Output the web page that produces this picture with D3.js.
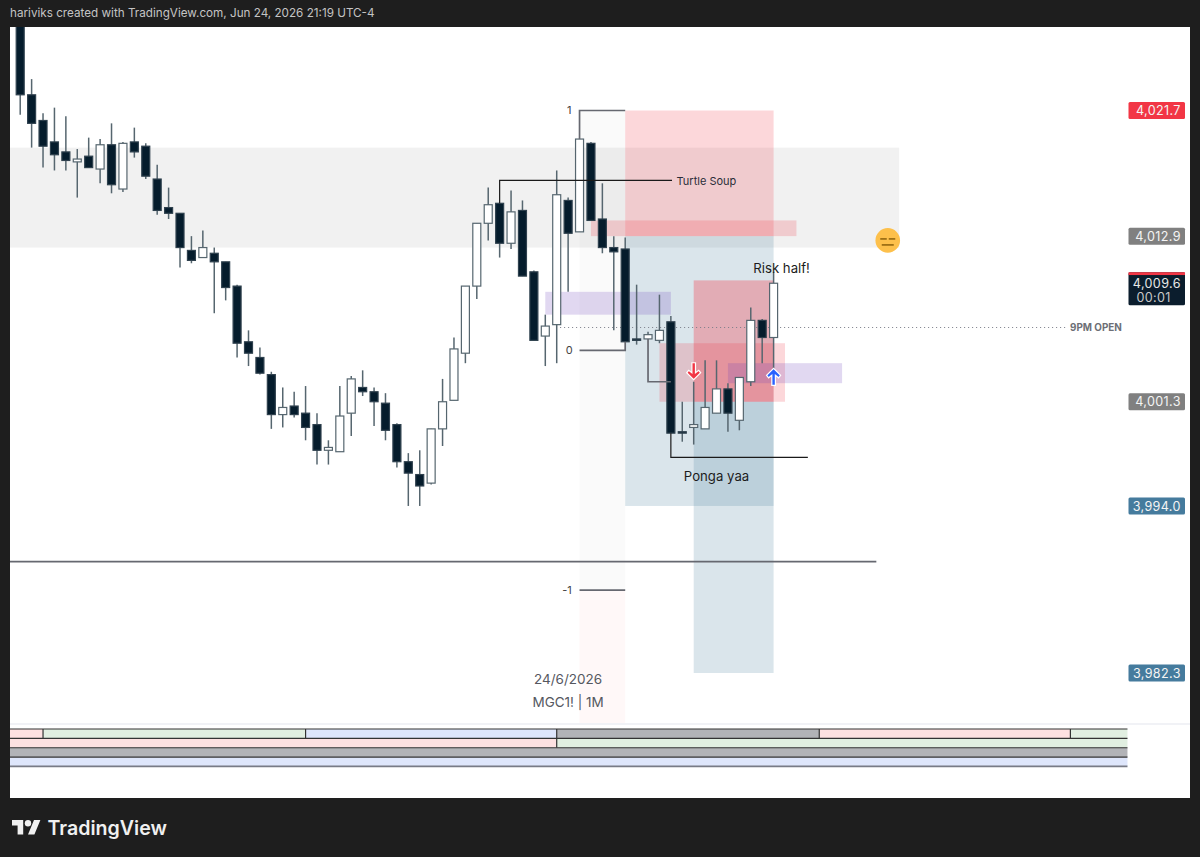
<!DOCTYPE html>
<html>
<head>
<meta charset="utf-8">
<script src="https://cdn.jsdelivr.net/npm/d3@7"></script>
<style>
  html, body { margin: 0; padding: 0; background: #1e1e1e; overflow: hidden; }
  svg { display: block; font-family: Inter, "Noto Sans", sans-serif; }
</style>
</head>
<body>
<div id="chart"></div>
<script>
// MGC1! 1 minute candles
const opens = [4029.1,4022.8,4021.0,4019.5,4018.8,4018.1,4018.5,4017.6,4019.3,4016.2,4019.5,4019.2,4016.9,4014.9,4014.5,4011.9,4011.4,4011.7,4011.1,4009.4,4005.5,4004.4,4003.2,4000.4,4001.0,4000.5,3999.7,3997.9,3997.8,4000.5,4002.3,4002.0,4001.2,3999.7,3997.1,3996.2,3995.6,3999.4,4001.4,4004.7,4009.4,4013.8,4015.2,4012.4,4014.7,4010.4,4005.9,4006.7,4015.4,4013.2,4019.4,4014.1,4012.1,4012.0,4005.7,4005.7,4005.6,4006.9,3999.2,3999.5,3999.4,4000.5,4002.2,4000.0,4002.7,4007.0,4005.8];
const highs = [4029.4,4023.9,4021.5,4021.9,4021.3,4019.0,4019.8,4019.7,4020.8,4019.5,4020.5,4019.4,4017.9,4016.3,4014.5,4012.9,4013.3,4012.1,4011.1,4009.5,4006.3,4005.1,4003.4,4002.3,4002.0,4002.4,4000.5,3998.6,4002.4,4003.1,4003.5,4002.3,4001.9,3999.8,3997.7,3997.9,3999.4,4002.9,4005.8,4009.4,4013.8,4016.3,4015.2,4016.1,4015.4,4010.5,4007.4,4017.5,4015.6,4019.7,4019.5,4016.6,4012.9,4012.8,4009.5,4006.2,4008.8,4007.3,4001.3,4002.7,4004.2,4004.2,4002.6,4003.0,4007.9,4007.1,4010.4];
const lows = [4021.4,4019.1,4017.7,4017.5,4017.5,4015.6,4017.7,4016.6,4015.9,4016.0,4018.4,4016.9,4014.4,4014.1,4010.7,4011.0,4011.4,4007.5,4008.4,4004.4,4003.8,4003.2,3999.4,3999.5,4000.2,3998.6,3996.9,3996.9,3997.8,3998.9,4001.7,3999.6,3998.6,3996.7,3994.0,3994.0,3995.5,3998.2,4001.4,4004.0,4008.5,4012.6,4011.4,4012.0,4010.1,4005.6,4003.8,4004.0,4009.0,4013.2,4014.0,4011.7,4006.3,4005.5,4005.3,4005.7,4005.4,3999.1,3998.5,3998.3,3999.4,4000.5,3999.2,3999.3,4002.4,4004.0,4003.5];
const closes = [4022.8,4020.8,4019.2,4018.6,4018.2,4018.3,4017.7,4019.3,4016.5,4019.4,4018.8,4017.1,4014.7,4014.5,4012.1,4011.2,4012.1,4011.1,4009.3,4005.4,4004.7,4003.3,4000.4,4000.9,4000.4,3999.5,3997.9,3998.1,4000.3,4002.9,4002.0,4001.3,3999.3,3997.1,3996.3,3995.4,3999.4,4001.3,4005.0,4009.4,4013.8,4015.1,4012.4,4014.6,4010.1,4005.6,4006.6,4015.8,4013.1,4019.7,4014.0,4012.1,4011.8,4005.5,4005.6,4006.0,4006.3,3999.1,3999.1,3999.7,4000.9,4002.2,4000.5,4003.0,4007.0,4005.8,4009.6];

// price labels on the right hand scale
const labelPrices = [4021.7, 4012.9, 4001.3, 3994.0, 3982.3];
const labelKinds = ["red", "gray", "gray", "blue", "blue"];
const lastPrice = 4009.6;
const countdown = "00:01";

// drawn boxes: first bar, last bar, top price, bottom price, kind
const boxes = [
  [-2, 77, 4019.1, 4012.1, "zone"],
  [49, 53, 4021.7, 3988.1, "fibTop"],
  [49, 53, 3988.1, 3978.8, "fibBottom"],
  [53, 66, 4021.7, 4012.9, "stop"],
  [53, 66, 4012.9, 3994.0, "target"],
  [59, 66, 4009.8, 4001.3, "stopStrong"],
  [59, 66, 4001.3, 3982.3, "target"],
  [50, 68, 4014.0, 4012.9, "stop"],
  [56, 67, 4005.4, 4001.3, "stop"],
  [46, 57, 4009.0, 4007.4, "purple"],
  [62, 72, 4004.0, 4002.6, "purple"]
];

// connector lines as [bar, price] points
const fibLines = [
  [[49, 4019.7], [49, 4021.7], [53, 4021.7]],
  [[49, 4004.9], [53, 4004.9], [53, 4005.5]],
  [[49, 3988.1], [53, 3988.1]],
  [[55, 4005.7], [55, 4002.7], [57, 4002.7]],
  [[-2, 3990.1], [75, 3990.1]]
];
const blackLines = [
  [[42, 4015.2], [42, 4016.8], [57.1, 4016.8]],
  [[57, 3999.1], [57, 3997.4], [69, 3997.4]]
];
const openLevel = [[47.3, 4006.5], [91.7, 4006.5]];

const notes = ["Turtle Soup", "Risk half!", "Ponga yaa", "24/6/2026", "MGC1! | 1M", "1", "0", "-1", "9PM OPEN"];
const noteBars = [57.5, 66.7, 61, 48, 48, 48.1, 48.1, 47.9, 92];
const notePrices = [4016.75, 4010.65, 3996.05, 3981.85, 3980.25, 4021.7, 4004.9, 3988.1, 4006.5];

// session strip underneath the chart, breaks in bars
const stripBreaks = [
  [-2, 2, 25, 47, 70, 92, 97],
  [-2, 47, 97],
  [-2, 97],
  [-2, 97]
];
const stripKinds = [
  ["pink", "green", "blue", "gray", "pink", "green"],
  ["pink", "green"],
  ["gray"],
  ["blue"]
];

const width = 1200, height = 857;
const x = d3.scaleLinear().domain([0, 66]).range([20.2, 773.6]);
const y = d3.scaleLinear().domain([4021.7, 3982.3]).range([110.5, 673]);
const fmt = d3.format(",.1f");

const boxFill = {
  zone: "#f1f1f1",
  fibTop: "rgba(120,123,134,0.04)",
  fibBottom: "rgba(242,54,69,0.035)",
  stop: "rgba(242,54,69,0.2)",
  stopStrong: "rgba(242,54,69,0.32)",
  target: "rgba(69,123,157,0.2)",
  purple: "rgba(103,58,183,0.2)"
};
const labelFill = { red: "#f23645", gray: "#808080", blue: "#457b9d" };
const stripFill = { pink: "#fde1e1", green: "#e1efe1", blue: "#dee6fb", gray: "#b2b3b7" };

const svg = d3.select("#chart").append("svg")
  .attr("width", width)
  .attr("height", height);

svg.append("text")
  .attr("x", 10).attr("y", 16.5)
  .attr("font-size", 11.7)
  .attr("fill", "#c4c4c4")
  .text("hariviks created with TradingView.com, Jun 24, 2026 21:19 UTC-4");

svg.append("rect")
  .attr("x", 10).attr("y", 27)
  .attr("width", 1180).attr("height", 771)
  .attr("fill", "#ffffff");

svg.append("clipPath").attr("id", "pane")
  .append("rect")
  .attr("x", 10).attr("y", 27)
  .attr("width", 1180).attr("height", 696);

const pane = svg.append("g").attr("clip-path", "url(#pane)");

pane.selectAll("rect.box")
  .data(boxes)
  .join("rect")
    .attr("class", "box")
    .attr("x", d => x(d[0]))
    .attr("y", d => y(d[2]))
    .attr("width", d => x(d[1]) - x(d[0]))
    .attr("height", d => y(d[3]) - y(d[2]))
    .attr("fill", d => boxFill[d[4]]);

const line = d3.line().x(d => x(d[0])).y(d => y(d[1]));

pane.append("path")
  .attr("d", line(openLevel))
  .attr("fill", "none")
  .attr("stroke", "#787b86")
  .attr("stroke-width", 1)
  .attr("stroke-dasharray", "1 3");

// candles
const candles = pane.selectAll("g.candle")
  .data(opens.map((o, i) => i))
  .join("g")
    .attr("class", "candle");

candles.append("line")
  .attr("x1", i => x(i)).attr("x2", i => x(i))
  .attr("y1", i => y(highs[i])).attr("y2", i => y(lows[i]))
  .attr("stroke", "#56666f")
  .attr("stroke-width", 1.5);

candles.append("rect")
  .attr("x", i => x(i) - 4)
  .attr("y", i => y(Math.max(opens[i], closes[i])))
  .attr("width", 8)
  .attr("height", i => Math.max(1, Math.abs(y(opens[i]) - y(closes[i]))))
  .attr("fill", i => closes[i] >= opens[i] ? "#ffffff" : "#051c2c")
  .attr("stroke", i => closes[i] >= opens[i] ? "#56666f" : "#2f414e")
  .attr("stroke-width", 1.2);

pane.selectAll("path.fib")
  .data(fibLines)
  .join("path")
    .attr("class", "fib")
    .attr("d", line)
    .attr("fill", "none")
    .attr("stroke", "#666870")
    .attr("stroke-width", 1.7);

pane.selectAll("path.black")
  .data(blackLines)
  .join("path")
    .attr("class", "black")
    .attr("d", line)
    .attr("fill", "none")
    .attr("stroke", "#1a1a1a")
    .attr("stroke-width", 1.2);

// signal arrows sit on the wick of their bar
const arrowRed = svg.append("g")
  .attr("transform", `translate(${x(59)},${y(highs[59]) - 2})`);
arrowRed.append("path")
  .attr("d", "M-1.8,-17 H1.8 V-7 L5,-9.5 L7,-7 L0,0 L-7,-7 L-5,-9.5 L-1.8,-7 Z")
  .attr("fill", "#f23645")
  .attr("stroke", "#ffffff")
  .attr("stroke-width", 1.2);

const arrowBlue = svg.append("g")
  .attr("transform", `translate(${x(66)},${y(lows[66]) - 2})`);
arrowBlue.append("path")
  .attr("d", "M-1.8,17 H1.8 V7 L5,9.5 L7,7 L0,0 L-7,7 L-5,9.5 L-1.8,7 Z")
  .attr("fill", "#2962ff")
  .attr("stroke", "#ffffff")
  .attr("stroke-width", 1.2);

// emoji sticker at the end of the gray zone
const face = svg.append("g").attr("transform", `translate(${x(76)},${y(4012.6)})`);
face.append("circle").attr("r", 12.3).attr("fill", "#fdc04b");
face.selectAll("line")
  .data([[-7.5, -1, -1.5], [1, 7.5, -1.5], [-6, 6, 4.5]])
  .join("line")
    .attr("x1", d => d[0]).attr("x2", d => d[1])
    .attr("y1", d => d[2]).attr("y2", d => d[2])
    .attr("stroke", "#94670f")
    .attr("stroke-width", 1.6);

// text notes
const noteSize = [11, 13.2, 13.2, 13.5, 13.5, 11, 11, 11, 9.9];
const noteAnchor = ["start", "middle", "middle", "middle", "middle", "middle", "middle", "middle", "start"];
const noteColor = ["#2a2e39", "#1c1c1c", "#1c1c1c", "#55585f", "#55585f", "#444", "#444", "#444", "#6d6f76"];
svg.selectAll("text.note")
  .data(notes)
  .join("text")
    .attr("class", "note")
    .attr("x", (d, i) => i == 8 ? 1070 : x(noteBars[i]))
    .attr("y", (d, i) => y(notePrices[i]))
    .attr("dy", "0.36em")
    .attr("font-size", (d, i) => noteSize[i])
    .attr("font-weight", (d, i) => i == 8 ? 700 : 400)
    .attr("text-anchor", (d, i) => noteAnchor[i])
    .attr("fill", (d, i) => noteColor[i])
    .text(d => d);

// price scale labels
const tags = svg.selectAll("g.tag")
  .data(labelPrices)
  .join("g")
    .attr("class", "tag")
    .attr("transform", d => `translate(1128.5,${y(d)})`);
tags.append("rect")
  .attr("y", -8.5).attr("width", 56.5).attr("height", 17).attr("rx", 1.5)
  .attr("fill", (d, i) => labelFill[labelKinds[i]]);
tags.append("text")
  .attr("x", 52.3).attr("dy", "0.36em")
  .attr("text-anchor", "end")
  .attr("font-size", 12.6)
  .attr("letter-spacing", 0.35)
  .attr("fill", "#f4f4f4")
  .text(d => fmt(d));

const last = svg.append("g").attr("transform", `translate(1128.5,${y(lastPrice)})`);
last.append("rect").attr("y", -11).attr("width", 56.5).attr("height", 33).attr("rx", 1.5).attr("fill", "#0b1d2d");
last.append("rect").attr("y", -11).attr("width", 56.5).attr("height", 2.8).attr("fill", "#f23645");
last.append("text").attr("x", 52.3).attr("y", 0).attr("dy", "0.36em").attr("text-anchor", "end")
  .attr("font-size", 12.6).attr("letter-spacing", 0.35).attr("fill", "#e8e8e8").text(fmt(lastPrice));
last.append("text").attr("x", 8).attr("y", 14).attr("dy", "0.36em")
  .attr("font-size", 12.6).attr("letter-spacing", 0.35).attr("fill", "#c9c9c9").text(countdown);

// session strip
svg.append("rect")
  .attr("x", 10).attr("y", 723).attr("width", 1180).attr("height", 2)
  .attr("fill", "#f1f2f6");
const stripX = d3.scaleLinear().domain(x.domain()).range(x.range());
const stripY = d3.scaleBand().domain([0, 1, 2, 3]).range([729, 766.5]);
stripBreaks.forEach((breaks, row) => {
  const g = svg.append("g");
  stripKinds[row].forEach((kind, j) => {
    const x0 = Math.max(10, stripX(breaks[j]));
    g.append("rect")
      .attr("x", x0).attr("y", stripY(row))
      .attr("width", stripX(breaks[j + 1]) - x0)
      .attr("height", stripY.bandwidth())
      .attr("fill", stripFill[kind]);
    if (j > 0) {
      g.append("line")
        .attr("x1", x0).attr("x2", x0)
        .attr("y1", stripY(row)).attr("y2", stripY(row) + stripY.bandwidth())
        .attr("stroke", "#333").attr("stroke-width", 1.2);
    }
  });
  g.append("line")
    .attr("x1", 10).attr("x2", stripX(97))
    .attr("y1", stripY(row)).attr("y2", stripY(row))
    .attr("stroke", "#333").attr("stroke-width", 1.2);
});
svg.append("line")
  .attr("x1", 10).attr("x2", stripX(97))
  .attr("y1", 766.3).attr("y2", 766.3)
  .attr("stroke", "#787b86").attr("stroke-width", 1.8);

// footer logo
const logo = svg.append("g").attr("transform", "translate(12,816.8) scale(0.8)").attr("fill", "#f0f0f0");
logo.append("path").attr("d", "M14 22H7V11H0V4h14v18zM28 22h-8l7.5-18h8L28 22z");
logo.append("circle").attr("cx", 20).attr("cy", 8).attr("r", 4);
svg.append("text")
  .attr("x", 47.5).attr("y", 835)
  .attr("font-size", 19.6).attr("font-weight", 600)
  .attr("fill", "#f0f0f0")
  .text("TradingView");
</script>
</body>
</html>
